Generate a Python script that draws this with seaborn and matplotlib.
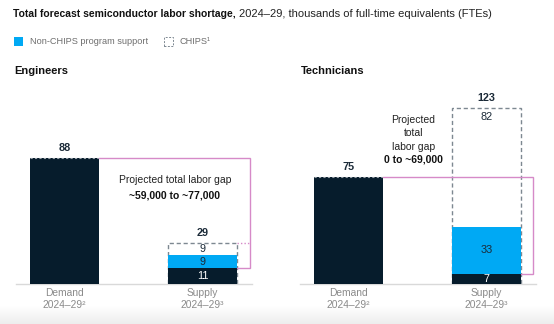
import numpy as np
import pandas as pd
import matplotlib
matplotlib.use("Agg")
import matplotlib.pyplot as plt
import seaborn as sns
from matplotlib.patches import Rectangle

# ---- data ----
categories = ["Demand\n2024–29²", "Supply\n2024–29³"]
panels = ["Engineers", "Technicians"]
demand = [88, 75]
supply_base = [11, 7]
supply_nonchips = [9, 33]
supply_chips = [9, 82]
supply_total = [29, 123]
gap_text = ["Projected total labor gap", "Projected\ntotal\nlabor gap"]
gap_range = ["~59,000 to ~77,000", "0 to ~69,000"]

NAVY = "#061c2c"
CYAN = "#00a9f4"
PINK = "#d68ac8"
GRAYBOX = "#7d8891"
FONT = ["Liberation Sans", "DejaVu Sans"]

sns.set_theme(style="white")
plt.rcParams["font.family"] = FONT

W, H = 554, 324
fig = plt.figure(figsize=(W / 100, H / 100), dpi=100)

# bottom gradient band
gax = fig.add_axes([0, 0, 1, 18 / H])
grad = np.linspace(1.0, 0.93, 50).reshape(-1, 1)
gax.imshow(np.dstack([grad, grad, grad]), aspect="auto", extent=[0, 1, 0, 1], origin="upper")
gax.axis("off")

def px_axes(x0, x1, ytop, ybot):
    return fig.add_axes([x0 / W, (H - ybot) / H, (x1 - x0) / W, (ybot - ytop) / H])

ymax = (284 - 100) / 1.43
axes_px = [(16, 252), (300, 536)]

for i, (x0, x1) in enumerate(axes_px):
    ax = px_axes(x0, x1, 100, 284)
    ax.set_facecolor("none")
    # total dashed box (supply) behind
    df_tot = pd.DataFrame({"cat": categories, "val": [0, supply_total[i]]})
    sns.barplot(data=df_tot, x="cat", y="val", ax=ax, width=0.5, color="white",
                saturation=1, edgecolor=GRAYBOX, linewidth=1.0,
                linestyle=(0, (3, 2)), zorder=2)
    cum2 = supply_base[i] + supply_nonchips[i]
    df_mid = pd.DataFrame({"cat": categories, "val": [demand[i], cum2]})
    sns.barplot(data=df_mid, x="cat", y="val", ax=ax, width=0.5, saturation=1,
                hue="cat", palette=[NAVY, CYAN], legend=False,
                edgecolor="none", linewidth=0, zorder=3)
    df_base = pd.DataFrame({"cat": categories, "val": [0, supply_base[i]]})
    sns.barplot(data=df_base, x="cat", y="val", ax=ax, width=0.5, color=NAVY,
                saturation=1, edgecolor="none", linewidth=0, zorder=4)

    ax.set_xlim(-0.351, 1.359)
    ax.set_ylim(0, ymax)
    ax.set_xlabel("")
    ax.set_ylabel("")
    ax.set_yticks([])
    for s in ["top", "right", "left"]:
        ax.spines[s].set_visible(False)
    ax.spines["bottom"].set_color("#d9d9d9")
    ax.spines["bottom"].set_linewidth(1.0)
    ax.tick_params(axis="x", length=0, pad=3, labelsize=7.4, labelcolor="#8a8a8a")

    # dashed top on demand bar
    ax.plot([-0.25, 0.25], [demand[i], demand[i]], color="#9aa3aa", lw=0.8,
            ls=(0, (2, 2)), zorder=5)

    # bracket
    bx = 1.344 if i == 0 else 1.339
    ax.plot([0.25, bx, bx, 1.25], [demand[i], demand[i], supply_base[i], supply_base[i]],
            color=PINK, lw=1.0, zorder=6, solid_joinstyle="miter")
    if supply_total[i] < demand[i]:
        ax.plot([1.25, bx], [supply_total[i], supply_total[i]], color=PINK, lw=1.0,
                ls=(0, (1, 1.5)), zorder=6)

    # value labels
    lab_kw = dict(ha="center", fontsize=7.8, color="#1b2a38", zorder=7)
    ax.text(0, demand[i] + 7, f"{demand[i]}", va="center", fontweight="bold", **lab_kw)
    ax.text(1, supply_total[i] + 7, f"{supply_total[i]}", va="center", fontweight="bold", **lab_kw)
    ax.text(1, supply_base[i] / 2, f"{supply_base[i]}", va="center",
            ha="center", fontsize=7.8, color="white", zorder=7)
    ax.text(1, supply_base[i] + supply_nonchips[i] / 2, f"{supply_nonchips[i]}",
            va="center", ha="center", fontsize=7.8, color="#1b2a38", zorder=7)
    if i == 0:
        ax.text(1, cum2 + supply_chips[i] / 2, f"{supply_chips[i]}", va="center",
                ha="center", fontsize=7.8, color="#1b2a38", zorder=7)
    else:
        ax.text(1, supply_total[i] - 6, f"{supply_chips[i]}", va="center",
                ha="center", fontsize=7.8, color="#1b2a38", zorder=7)

    # gap annotation
    if i == 0:
        ax.text(0.8, (284 - 180) / 1.43, gap_text[i], ha="center", va="center",
                fontsize=7.5, color="#222222")
        ax.text(0.8, (284 - 196) / 1.43, gap_range[i], ha="center", va="center",
                fontsize=7.5, fontweight="bold", color="#111111")
    else:
        ax.text(0.47, (284 - 133.5) / 1.43, gap_text[i], ha="center", va="center",
                fontsize=7.5, color="#222222", linespacing=1.4)
        ax.text(0.47, (284 - 160) / 1.43, gap_range[i], ha="center", va="center",
                fontsize=7.5, fontweight="bold", color="#111111")

    fig.text((x0 - 2 + (3 if i == 1 else 0)) / W, 1 - 71 / H, panels[i], ha="left",
             va="center", fontsize=8, fontweight="bold", color="#111111")

# title
t1 = fig.text(13 / W, 1 - 14 / H, "Total forecast semiconductor labor shortage,", ha="left",
              va="center", fontsize=7.5, fontweight="bold", color="#111111")
fig.canvas.draw()
bb = t1.get_window_extent()
fig.text((bb.x1 + 3) / W, 1 - 14 / H, "2024–29, thousands of full-time equivalents (FTEs)",
         ha="left", va="center", fontsize=8.0, color="#222222")

# legend
fig.patches.append(Rectangle((14 / W, 1 - 46 / H), 9 / W, 9 / H, transform=fig.transFigure,
                             facecolor=CYAN, edgecolor="none"))
fig.text(30 / W, 1 - 41.5 / H, "Non-CHIPS program support", ha="left", va="center",
         fontsize=6.6, color="#6e6e6e")
fig.patches.append(Rectangle((164 / W, 1 - 46 / H), 9 / W, 9 / H, transform=fig.transFigure,
                             facecolor="none", edgecolor=GRAYBOX, lw=0.7, ls=(0, (2, 1.5))))
fig.text(179 / W, 1 - 41.5 / H, "CHIPS¹", ha="left", va="center",
         fontsize=6.6, color="#6e6e6e")

fig.savefig("out.png", dpi=100, facecolor="white")
